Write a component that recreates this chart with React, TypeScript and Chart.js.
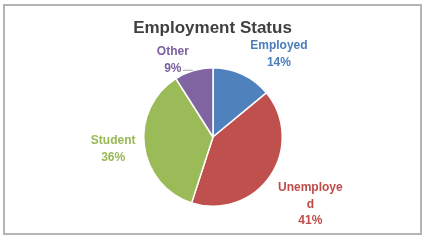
import React, { useEffect, useRef } from "react";
import { Chart, registerables } from "chart.js";

Chart.register(...registerables);

const TITLE = "Employment Status";
const categories = ["Employed", "Unemployed", "Student", "Other"];
const values = [14, 41, 36, 9];
const colors = ["#4F81BD", "#C0504D", "#9BBB59", "#8064A2"];
const textColors = ["#4A7EBB", "#BE4B48", "#98B954", "#7D60A0"];
const displayLines = [["Employed"], ["Unemploye", "d"], ["Student"], ["Other"]];
// radial distance of label centre (fraction of radius) and angular nudge (deg)
const labelDist = [1.54, 1.7, 1.45, 1.27];
const labelNudge = [13, 0, 1, -11];

const FONT = "'Liberation Sans', Arial, sans-serif";

const overlay = {
  id: "overlay",
  beforeDraw(chart: any) {
    const ctx = chart.ctx;
    ctx.save();
    ctx.fillStyle = "#ffffff";
    ctx.fillRect(0, 0, chart.width, chart.height);
    ctx.strokeStyle = "#B4B4B4";
    ctx.lineWidth = 2;
    ctx.strokeRect(4, 5, 417, 229);
    ctx.restore();
  },
  afterDraw(chart: any) {
    const ctx = chart.ctx;
    const meta = chart.getDatasetMeta(0);
    const total = values.reduce((a, b) => a + b, 0);
    ctx.save();
    ctx.fillStyle = "#404040";
    ctx.font = `bold 17px ${FONT}`;
    ctx.textAlign = "center";
    ctx.textBaseline = "alphabetic";
    ctx.fillText(TITLE, chart.width / 2, 33);

    ctx.font = `bold 12px ${FONT}`;
    meta.data.forEach((arc: any, i: number) => {
      const mid = (arc.startAngle + arc.endAngle) / 2 + (labelNudge[i] * Math.PI) / 180;
      const r = arc.outerRadius * labelDist[i];
      const cx = arc.x + Math.cos(mid) * r;
      const cy = arc.y + Math.sin(mid) * r;
      const lines = [...displayLines[i], Math.round((values[i] / total) * 100) + "%"];
      const lh = 16.5;
      const y0 = cy - ((lines.length - 1) * lh) / 2;
      ctx.fillStyle = textColors[i];
      lines.forEach((t, k) => ctx.fillText(t, cx, y0 + k * lh + 4.5));
      if (i === 3) {
        const topY = arc.y - arc.outerRadius;
        ctx.strokeStyle = "#A6A6A6";
        ctx.lineWidth = 1;
        ctx.beginPath();
        ctx.moveTo(cx + 10, topY + 2.5);
        ctx.lineTo(cx + 20, topY + 2.5);
        ctx.stroke();
      }
    });
    ctx.restore();
  },
};

export default function App() {
  const ref = useRef<HTMLCanvasElement>(null);
  useEffect(() => {
    document.body.style.margin = "0";
    const chart = new Chart(ref.current!, {
      type: "pie",
      data: {
        labels: categories,
        datasets: [
          {
            data: values,
            backgroundColor: colors,
            borderColor: "#ffffff",
            borderWidth: 1.5,
          },
        ],
      },
      options: {
        animation: false,
        responsive: false,
        layout: { padding: { left: 143, right: 142, top: 67, bottom: 33 } },
        plugins: { legend: { display: false }, tooltip: { enabled: false }, title: { display: false } },
      },
      plugins: [overlay],
    });
    return () => chart.destroy();
  }, []);
  return (
    <div style={{ width: 425, height: 240 }}>
      <canvas ref={ref} width={425} height={240} style={{ display: "block" }} />
    </div>
  );
}
